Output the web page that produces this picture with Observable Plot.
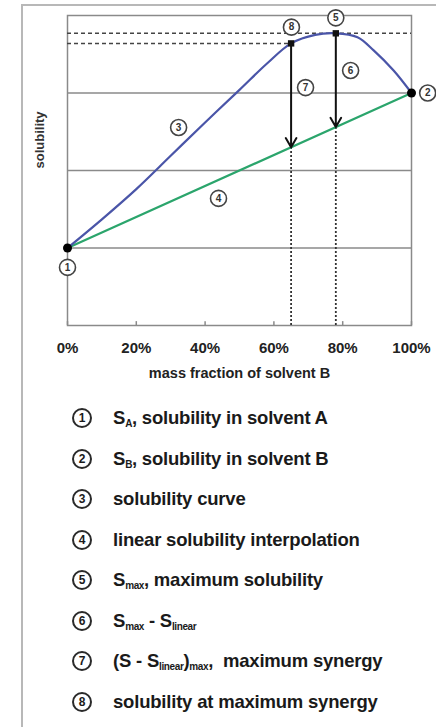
<!DOCTYPE html>
<html><head><meta charset="utf-8">
<script src="https://cdn.jsdelivr.net/npm/d3@7"></script>
<script src="https://cdn.jsdelivr.net/npm/@observablehq/plot@0.6"></script>
<style>
body{margin:0;background:#fff;font-family:"Liberation Sans",Arial,sans-serif;}
#wrap{position:relative;width:436px;height:727px;overflow:hidden;background:#fff;}
#outer{position:absolute;left:21px;top:4px;width:600px;height:800px;border-left:2px solid #b8b8b8;border-top:2px solid #b8b8b8;}
#chart{position:absolute;left:0;top:0;}
#legend{position:absolute;left:72px;top:398px;}
.row{height:40.5px;display:flex;align-items:center;font-weight:bold;font-size:18.5px;color:#1a1a1a;white-space:nowrap;letter-spacing:-0.2px;}
.num{box-sizing:border-box;width:20px;height:20px;border:2px solid #2a2a2a;border-radius:50%;display:inline-flex;align-items:center;justify-content:center;font-size:12px;margin-right:21px;letter-spacing:0;}
sub{font-size:10px;vertical-align:-3px;letter-spacing:-0.4px;}
</style></head>
<body>
<div id="wrap"><div id="outer"></div><div id="chart"></div><div id="legend"></div></div>
<script>
// ---- data ----
const curveX = [0, 0.1, 0.2, 0.3, 0.4, 0.5, 0.58, 0.65, 0.72, 0.78, 0.843, 0.89, 0.948, 1.0];
const curveY = [1, 1.37, 1.76, 2.19, 2.62, 3.04, 3.38, 3.64, 3.75, 3.77, 3.72, 3.55, 3.29, 3.0];
const sA = 1, sB = 3;             // solubility in solvent A and B
const xSyn = 0.65, sSyn = 3.64;   // maximum synergy point
const xMax = 0.78, sMax = 3.77;   // maximum solubility point
const xTicks = [0, 0.2, 0.4, 0.6, 0.8, 1.0];
const gridY = [1, 2, 3];
const labelNum = ["1","2","3","4","5","6","7","8"];
const labelX = [0, 1.047, 0.323, 0.439, 0.78, 0.823, 0.692, 0.651];
const labelY = [0.75, 3.0, 2.555, 1.64, 3.97, 3.29, 3.07, 3.85];
const legendItems = [
  ["1", "S<sub>A</sub>, solubility in solvent A"],
  ["2", "S<sub>B</sub>, solubility in solvent B"],
  ["3", "solubility curve"],
  ["4", "linear solubility interpolation"],
  ["5", "S<sub>max</sub>, maximum solubility"],
  ["6", "S<sub>max</sub> - S<sub>linear</sub>"],
  ["7", "(S - S<sub>linear</sub>)<sub>max</sub>,&nbsp; maximum synergy"],
  ["8", "solubility at maximum synergy"]
];
const xLabel = "mass fraction of solvent B";
const yLabel = "solubility";

// ---- derived ----
const lin = x => sA + (sB - sA) * x;
const curve = curveX.map((x, i) => ({x, y: curveY[i]}));
const linear = [{x: 0, y: sA}, {x: 1, y: sB}];
const labels = labelNum.map((n, i) => ({n, x: labelX[i], y: labelY[i]}));
const arrows = [{x: xSyn, y1: sSyn, y2: lin(xSyn)}, {x: xMax, y1: sMax, y2: lin(xMax)}];

const chart = Plot.plot({
  width: 436, height: 395,
  marginLeft: 67, marginRight: 25, marginTop: 15, marginBottom: 70,
  x: {domain: [0, 1]},
  y: {domain: [0, 4]},
  style: {fontFamily: "Liberation Sans, Arial, sans-serif", background: "transparent", color: "#222"},
  marks: [
    Plot.ruleY(gridY, {stroke: "#8a8a8a", strokeWidth: 1.5}),
    Plot.frame({stroke: "#8a8a8a", strokeWidth: 1.5}),
    Plot.ruleX(xTicks, {y1: 0, y2: 0.05, stroke: "#8a8a8a", strokeWidth: 1.5}),
    Plot.axisX({ticks: xTicks, tickFormat: d3.format(".0%"), tickSize: 0, tickPadding: 17, fontSize: 15, fontWeight: "bold", label: null}),
    Plot.axisY({ticks: [], label: null}),
    Plot.text([xLabel], {frameAnchor: "bottom", dy: 52, fontSize: 14.5, fontWeight: "bold", fill: "#222"}),
    Plot.text([yLabel], {frameAnchor: "left", dx: -28, dy: -2, rotate: -90, fontSize: 13, fontWeight: "bold", fill: "#333"}),
    // dashed horizontals
    Plot.ruleY([sMax], {x1: 0, x2: 1, stroke: "#444", strokeWidth: 1.5, strokeDasharray: "4,3"}),
    Plot.ruleY([sSyn], {x1: 0, x2: xSyn, stroke: "#444", strokeWidth: 1.5, strokeDasharray: "4,3"}),
    // dotted verticals
    Plot.ruleX(arrows, {x: "x", y1: 0, y2: "y2", stroke: "#333", strokeWidth: 1.8, strokeDasharray: "2,2"}),
    Plot.line(linear, {x: "x", y: "y", stroke: "#2ba56c", strokeWidth: 2.2}),
    Plot.line(curve, {x: "x", y: "y", stroke: "#4a55a8", strokeWidth: 2.2, curve: "catmull-rom"}),
    Plot.arrow(arrows, {x: "x", y1: "y1", y2: "y2", stroke: "#111", strokeWidth: 2, headLength: 8}),
    Plot.dot(arrows, {x: "x", y: "y1", symbol: "square", r: 3.6, fill: "#111"}),
    Plot.dot([{x: 0, y: sA}, {x: 1, y: sB}], {x: "x", y: "y", r: 4.5, fill: "#000"}),
    Plot.dot(labels, {x: "x", y: "y", r: 8, fill: "white", stroke: "#444", strokeWidth: 1.6}),
    Plot.text(labels, {x: "x", y: "y", text: "n", fontSize: 10, fontWeight: "bold", fill: "#333"})
  ]
});
document.getElementById("chart").appendChild(chart);

const leg = d3.select("#legend");
legendItems.forEach(([n, t]) => {
  const row = leg.append("div").attr("class", "row");
  row.append("span").attr("class", "num").text(n);
  row.append("span").html(t);
});
</script>
</body></html>
